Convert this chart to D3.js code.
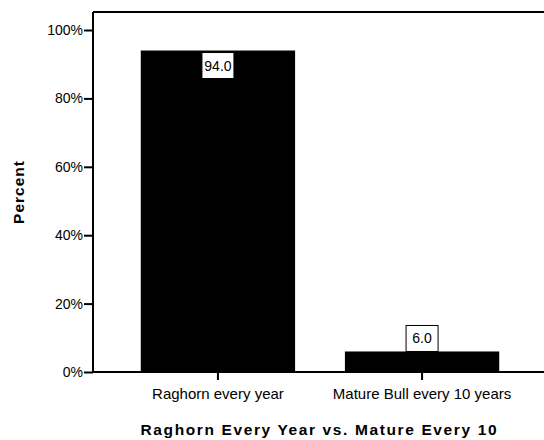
<!DOCTYPE html>
<html>
<head>
<meta charset="utf-8">
<script src="https://cdn.jsdelivr.net/npm/d3@7"></script>
<style>
  body { margin: 0; background: #fff; }
  svg { display: block; font-family: Arial, "Liberation Sans", sans-serif; }
</style>
</head>
<body>
<svg id="chart"></svg>
<script>
const categories = ["Raghorn every year", "Mature Bull every 10 years"]
const percents = [94.0, 6.0]
const yTicks = [0, 20, 40, 60, 80, 100]
const xTitle = "Raghorn Every Year vs. Mature Every 10"
const yTitle = "Percent"

const width = 544
const height = 440
const margin = { top: 12, right: -3, bottom: 68, left: 93 }

const svg = d3.select("#chart")
  .attr("width", width)
  .attr("height", height)

const x = d3.scaleBand()
  .domain(categories)
  .range([margin.left, width - margin.right])
  .paddingInner(0.244)
  .paddingOuter(0.234)

const y = d3.scaleLinear()
  .domain([0, 100])
  .range([height - margin.bottom, 30])

const data = categories.map((c, i) => ({ category: c, value: percents[i] }))

// frame (top line)
svg.append("line")
  .attr("x1", margin.left).attr("x2", width)
  .attr("y1", margin.top).attr("y2", margin.top)
  .attr("stroke", "#000").attr("stroke-width", 2)

// bars
svg.append("g")
  .selectAll("rect")
  .data(data)
  .join("rect")
  .attr("x", d => x(d.category))
  .attr("y", d => y(d.value))
  .attr("width", x.bandwidth())
  .attr("height", d => y(0) - y(d.value))
  .attr("fill", "#000")

// y axis
svg.append("g")
  .attr("transform", `translate(${margin.left}, 0)`)
  .call(d3.axisLeft(y)
    .tickValues(yTicks)
    .tickFormat(d => d + "%")
    .tickSize(9)
    .tickPadding(1))
  .call(g => g.select(".domain")
    .attr("d", `M0,${margin.top}V${y(0)}`)
    .attr("stroke-width", 2))
  .call(g => g.selectAll(".tick line").attr("stroke-width", 2))
  .call(g => g.selectAll(".tick text")
    .attr("font-size", 14)
    .attr("fill", "#000")
    .attr("font-family", "Arial, Liberation Sans, sans-serif"))

// x axis
svg.append("g")
  .attr("transform", `translate(0, ${y(0)})`)
  .call(d3.axisBottom(x)
    .tickSize(8)
    .tickPadding(8))
  .call(g => g.select(".domain")
    .attr("d", `M${margin.left},0H${width}`)
    .attr("stroke-width", 2))
  .call(g => g.selectAll(".tick line").attr("stroke-width", 2))
  .call(g => g.selectAll(".tick text")
    .attr("font-size", 15)
    .attr("fill", "#000")
    .attr("font-family", "Arial, Liberation Sans, sans-serif"))

// value labels: inside the bar when tall, above it when short
const labelW = 32
const labelH = 26
const labels = svg.append("g")
  .selectAll("g")
  .data(data)
  .join("g")
  .attr("transform", d => {
    const cx = x(d.category) + x.bandwidth() / 2
    const top = d.value > 50 ? y(d.value) + 2 : y(d.value) - labelH
    return `translate(${cx}, ${top})`
  })

labels.append("rect")
  .attr("x", -labelW / 2)
  .attr("width", labelW)
  .attr("height", labelH)
  .attr("fill", "#fff")
  .attr("stroke", "#000")
  .attr("stroke-width", 1)

labels.append("text")
  .attr("y", labelH / 2 + 5)
  .attr("text-anchor", "middle")
  .attr("font-size", 14)
  .text(d => d.value.toFixed(1))

// axis titles
svg.append("text")
  .attr("x", (margin.left + width) / 2)
  .attr("y", 435)
  .attr("text-anchor", "middle")
  .attr("font-size", 15.5)
  .attr("font-weight", "bold")
  .attr("textLength", 356)
  .attr("lengthAdjust", "spacing")
  .text(xTitle)

svg.append("text")
  .attr("transform", "translate(24, 192) rotate(-90)")
  .attr("text-anchor", "middle")
  .attr("font-size", 15.5)
  .attr("font-weight", "bold")
  .attr("letter-spacing", 1)
  .text(yTitle)
</script>
</body>
</html>
